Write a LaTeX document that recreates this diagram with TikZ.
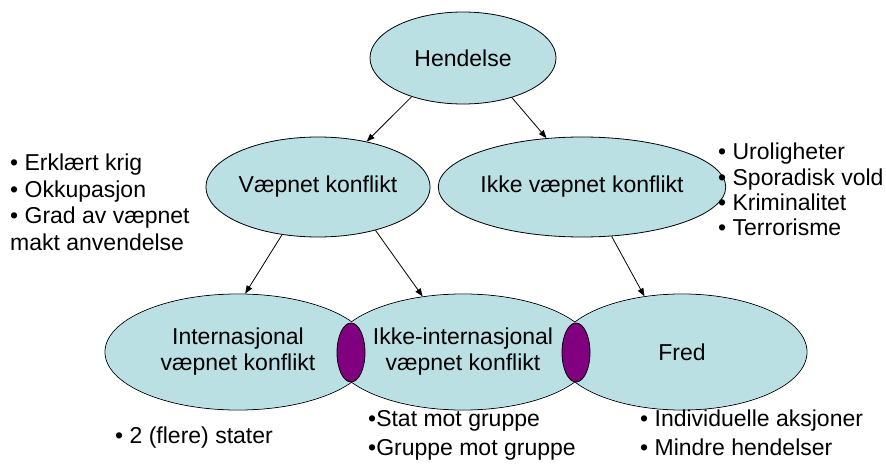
\documentclass[tikz,border=0pt]{standalone}
\usepackage{fontspec}
\setmainfont{Liberation Sans}
\usetikzlibrary{shapes.geometric,arrows.meta}
\definecolor{ellfill}{HTML}{BBE0E3}
\definecolor{lens}{HTML}{800080}
\begin{document}
\begin{tikzpicture}[x=1pt,y=-1pt,
  bubble/.style={ellipse,draw=black,line width=0.8pt,fill=ellfill,inner sep=0pt,align=center,font=\fontsize{23}{26}\selectfont},
  lensbox/.style={ellipse,draw=black,line width=0.8pt,fill=lens,inner sep=0pt,minimum width=28pt,minimum height=59pt},
  link/.style={line width=0.8pt,-{Triangle[length=8pt,width=6pt]}},
  note/.style={anchor=base west,inner sep=0pt,font=\fontsize{23}{26}\selectfont},
  cover/.style={fill=ellfill}]
\useasboundingbox (0,0) rectangle (886,468);
\node[bubble,minimum width=186pt,minimum height=92pt] (hend) at (463,58) {Hendelse};
\node[bubble,minimum width=224pt,minimum height=100pt] (vk) at (318,187) {Væpnet konflikt};
\node[bubble,minimum width=230pt,minimum height=100pt] (ivk) at (582,187) {Ikke væpnet konflikt};
% bottom row: outlines first, then inner fills hide the outline parts inside the overlaps
\node[bubble,minimum width=266pt,minimum height=116pt] (intl) at (238,352) {};
\node[bubble,minimum width=261pt,minimum height=116pt] (ikint) at (463,352) {};
\node[bubble,minimum width=250pt,minimum height=116pt] (fred) at (682,352) {};
\fill[cover] (intl.center) ellipse [x radius=132.4pt, y radius=57.4pt];
\fill[cover] (ikint.center) ellipse [x radius=129.9pt, y radius=57.4pt];
\fill[cover] (fred.center) ellipse [x radius=124.4pt, y radius=57.4pt];
\node[align=center,font=\fontsize{23}{26}\selectfont] (intlt) at (intl.center) {Internasjonal\\væpnet konflikt};
\node[align=center,font=\fontsize{23}{26}\selectfont] (ikintt) at (ikint.center) {Ikke-internasjonal\\væpnet konflikt};
\node[font=\fontsize{23}{26}\selectfont] (fredt) at (fred.center) {Fred};
\node[lensbox] (lensA) at (351,352.5) {};
\node[lensbox] (lensB) at (576,352.5) {};
\draw[link] (hend.217) -- (vk.43);
\draw[link] (hend.321) -- (ivk.126);
\draw[link] (vk.233) -- (intl.83);
\draw[link] (vk.323) -- (ikint.126);
\draw[link] (ivk.301) -- (fred.124);
\node[note] (l1) at (10,170) {• Erklært krig};
\node[note] (l2) at (10,197) {• Okkupasjon};
\node[note] (l3) at (10,223) {• Grad av væpnet};
\node[note] (l4) at (10,250) {makt anvendelse};
\node[note] (r1) at (718,160) {• Uroligheter};
\node[note] (r2) at (718,185) {• Sporadisk vold};
\node[note] (r3) at (718,210) {• Kriminalitet};
\node[note] (r4) at (718,235) {• Terrorisme};
\node[note] (b1) at (115,443) {• 2 (flere) stater};
\node[note] (m1) at (368,426) {•Stat mot gruppe};
\node[note] (m2) at (368,455) {•Gruppe mot gruppe};
\node[note] (f1) at (640,426) {• Individuelle aksjoner};
\node[note] (f2) at (640,455) {• Mindre hendelser};
\end{tikzpicture}
\end{document}
